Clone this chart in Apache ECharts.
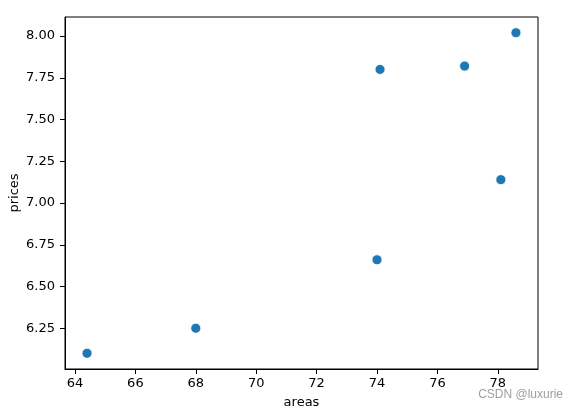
<!DOCTYPE html>
<html>
<head>
<meta charset="utf-8">
<script src="https://cdn.jsdelivr.net/npm/echarts@6/dist/echarts.min.js"></script>
<style>
html,body{margin:0;padding:0;background:#fff;}
#c{width:579px;height:410px;}
</style>
</head>
<body>
<div id="c"></div>
<script>
const areas = [64.4, 68.0, 74.1, 74.0, 76.9, 78.1, 78.6];
const prices = [6.1, 6.25, 7.8, 6.66, 7.82, 7.14, 8.02];
const xTicks = [64, 66, 68, 70, 72, 74, 76, 78];
const yTicks = [6.25, 6.5, 6.75, 7.0, 7.25, 7.5, 7.75, 8.0];

const points = areas.map((a, i) => [a, prices[i]]);
const font = 'DejaVu Sans';
const fs = 13;
const chart = echarts.init(document.getElementById('c'), null, {renderer: 'canvas'});
chart.setOption({
  animation: false,
  backgroundColor: '#fff',
  grid: {left: 65, right: 41, top: 17, bottom: 41, containLabel: false, outerBoundsMode: 'none',
    show: true, borderColor: '#000', borderWidth: 1, backgroundColor: 'transparent'},
  xAxis: {
    type: 'value', min: 63.67, max: 79.33,
    name: 'areas', nameLocation: 'middle', nameGap: 27, nameMoveOverlap: false,
    nameTextStyle: {fontFamily: font, fontSize: fs, color: '#000'},
    axisLine: {show: true, lineStyle: {color: '#000', width: 1}},
    axisTick: {show: true, length: 5, lineStyle: {color: '#000'}, customValues: xTicks},
    axisLabel: {fontFamily: font, fontSize: fs, color: '#000', margin: 8, customValues: xTicks,
      formatter: v => String(v)},
    splitLine: {show: false}
  },
  yAxis: {
    type: 'value', min: 6.006, max: 8.114,
    name: 'prices', nameLocation: 'middle', nameGap: 44, nameMoveOverlap: false,
    nameTextStyle: {fontFamily: font, fontSize: fs, color: '#000'},
    axisLine: {show: true, lineStyle: {color: '#000', width: 1}},
    axisTick: {show: true, length: 5, lineStyle: {color: '#000'}, customValues: yTicks},
    axisLabel: {fontFamily: font, fontSize: fs, color: '#000', margin: 10, customValues: yTicks,
      formatter: v => v.toFixed(2)},
    splitLine: {show: false}
  },
  series: [{
    type: 'scatter',
    data: points,
    symbolSize: 10,
    itemStyle: {color: '#1f77b4', borderColor: '#fff', borderWidth: 0.8, opacity: 1}
  }],
  graphic: [{
    type: 'text', right: 16, top: 389,
    style: {text: 'CSDN @luxurie', fontFamily: 'Liberation Sans', fontSize: 12, fill: '#a0a0a0'}
  }]
});
</script>
</body>
</html>
